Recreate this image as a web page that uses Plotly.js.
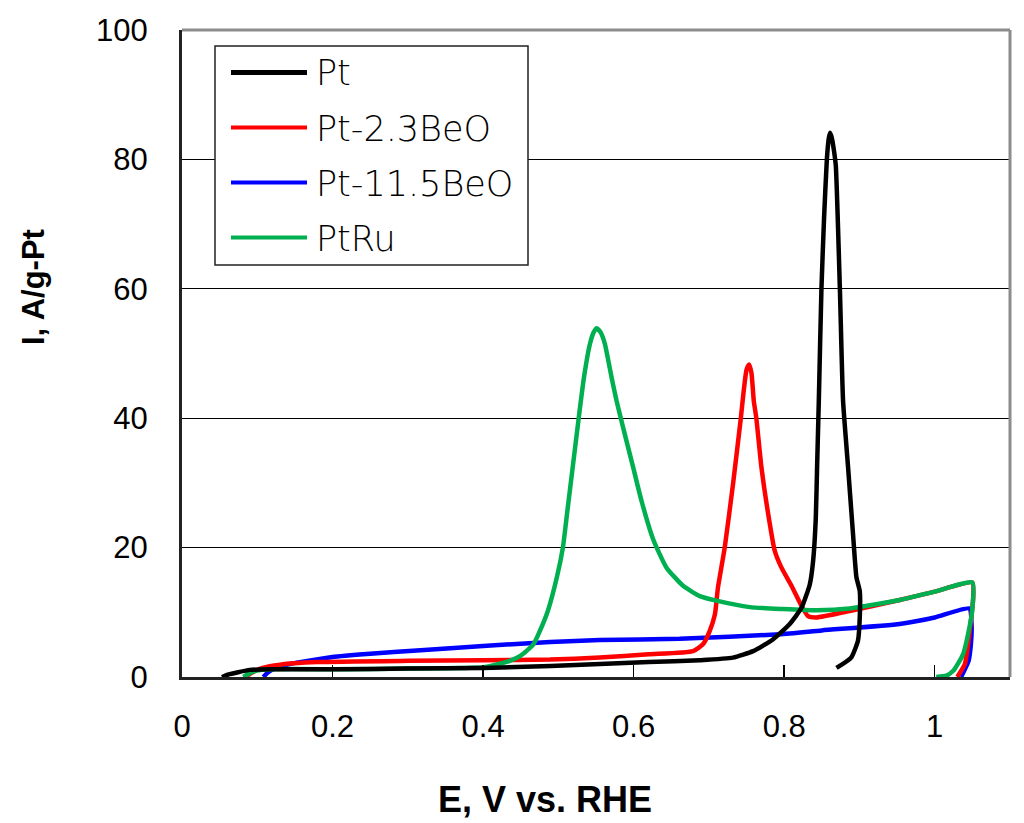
<!DOCTYPE html>
<html><head><meta charset="utf-8">
<script src="https://cdn.plot.ly/plotly-3.0.1.min.js"></script>
<style>html,body{margin:0;padding:0;background:#fff;} #chart{width:1024px;height:823px;}</style>
</head><body><div id="chart"></div>
<script>
// ---- data ----
const seriesNames = ["Pt", "Pt-2.3BeO", "Pt-11.5BeO", "PtRu"];

const ptE = [0.053,0.062,0.073,0.09,0.12,0.2,0.3,0.4,0.49,0.555,0.62,0.6879,0.732,0.7587,0.785,0.8074,0.823,0.834,0.8384,0.842,0.8437,0.846,0.8495,0.853,0.8567,0.8592,0.861,0.8635,0.8662,0.8686,0.874,0.8782,0.8849,0.8915,0.896,0.9004,0.9004,0.898,0.889,0.8695];
const ptI = [0,0.4,0.7,1.1,1.2,1.2,1.3,1.4,1.7,2.0,2.3,2.6,3.0,4.0,5.8,8.2,10.7,14.3,17.9,24.6,32.4,42.7,60,71,80,83.2,84.1,83.2,81.3,79,60,42.7,32.4,22,15.4,13.3,9.2,5.6,3.0,1.4];

const pt23E = [0.084,0.095,0.107,0.13,0.179,0.3,0.4,0.489,0.555,0.62,0.679,0.6923,0.701,0.708,0.712,0.721,0.732,0.7424,0.7465,0.75,0.7534,0.7565,0.7596,0.763,0.7698,0.781,0.7875,0.7964,0.8097,0.823,0.8317,0.843,0.887,0.9535,1.0,1.05,1.051,1.049,1.046,1.04,1.03];
const pt23I = [0,0.8,1.4,1.9,2.3,2.5,2.6,2.7,3.0,3.5,4.0,5.1,7.1,9.7,13.8,20,29.8,40,44.5,47.5,48.3,47,42.7,40,32.4,23.6,19.5,16.9,14.1,11,9.4,9.2,10.2,11.9,13.2,14.6,12,9.7,6.6,2,0];

const pt115E = [0.108,0.115,0.125,0.143,0.2,0.25,0.312,0.4,0.489,0.555,0.661,0.794,0.85,0.9535,1.0,1.046,1.049,1.048,1.045,1.035];
const pt115I = [0,0.8,1.4,2,3.1,3.6,4.1,4.8,5.4,5.7,5.9,6.6,7.2,8.2,9.2,10.6,8,5,2.5,0];

const ptRuE = [0.0815,0.09,0.099,0.12,0.223,0.3,0.4,0.42,0.4356,0.45,0.4666,0.475,0.486,0.498,0.506,0.512,0.527,0.534,0.542,0.547,0.551,0.556,0.5618,0.5707,0.5773,0.5883,0.5994,0.6105,0.6259,0.6437,0.6657,0.6879,0.71,0.7543,0.7985,0.843,0.887,0.9535,1.0,1.05,1.0497,1.046,1.0376,1.025,1.0155,1.002];
const ptRuI = [0,0.6,1.0,1.2,1.2,1.3,1.5,2.0,2.5,3.3,5,7,10.2,15.4,20,25.7,40,46.3,51.5,53.3,53.9,53.3,51.5,46.3,42.7,37.5,32.4,27.2,21.3,16.9,14.1,12.5,11.8,10.8,10.5,10.3,10.6,11.9,13.2,14.6,10.2,7.6,3.5,1.0,0.2,0];

const xTickVals = [0, 0.2, 0.4, 0.6, 0.8, 1];
const yTickVals = [0, 20, 40, 60, 80, 100];
const xTitle = "E, V vs. RHE";
const yTitle = "I, A/g-Pt";

// ---- style ----
const colors = ["#000000", "#ff0000", "#0000ff", "#00b050"];
const L = 182, R = 1010, T = 30, B = 677, W = 1024, H = 823;
const px = v => (v - L) / (R - L);
const py = v => (B - v) / (B - T);

const xs = [ptE, pt23E, pt115E, ptRuE];
const ys = [ptI, pt23I, pt115I, ptRuI];
const order = [2, 1, 3, 0];
const traces = order.map(i => ({
  x: xs[i], y: ys[i], name: seriesNames[i], type: 'scatter', mode: 'lines',
  line: {color: colors[i], width: 4.5, shape: 'spline', smoothing: 0.5},
  showlegend: false
}));

const shapes = [
  {type:'line', xref:'paper', yref:'paper', x0:0, x1:1, y0:1, y1:1, line:{color:'#8c8c8c', width:3}},
  {type:'line', xref:'paper', yref:'paper', x0:1, x1:1, y0:0, y1:1, line:{color:'#8c8c8c', width:3}},
  {type:'rect', xref:'paper', yref:'paper', x0:px(215), x1:px(528), y0:py(265), y1:py(46),
   line:{color:'#222', width:1.5}, fillcolor:'#ffffff', layer:'above'}
];
const annotations = [
  {text: xTitle, xref:'paper', yref:'paper', x: px(545), y: py(799), xanchor:'center', yanchor:'middle', showarrow:false,
   font:{family:'Liberation Sans, Arial, sans-serif', size:36, color:'#000', weight:'bold'}},
  {text: yTitle, xref:'paper', yref:'paper', x: px(33), y: py(287), xanchor:'center', yanchor:'middle', showarrow:false, textangle:-90,
   font:{family:'Liberation Sans, Arial, sans-serif', size:31, color:'#000', weight:'bold'}}
];
const legY = [72.5, 127.5, 182.5, 237.5];
seriesNames.forEach((n, i) => {
  shapes.push({type:'line', xref:'paper', yref:'paper', x0:px(231), x1:px(307), y0:py(legY[i]), y1:py(legY[i]),
    line:{color: colors[i], width: i === 0 ? 5 : 4}, layer:'above'});
  annotations.push({text: n, xref:'paper', yref:'paper', x: px(314), y: py(legY[i] + 1), xanchor:'left', yanchor:'middle',
    showarrow:false, font:{family:'DejaVu Sans ExtraLight, DejaVu Sans, sans-serif', size:35, color:'#000', weight:300}});
});

const layout = {
  width: W, height: H, paper_bgcolor:'#fff', plot_bgcolor:'#fff',
  margin: {l: L, r: W - R, t: T, b: H - B, pad: 0},
  showlegend: false,
  xaxis: {range:[0, 1.1], tickvals: xTickVals, ticks:'inside', ticklen:12, tickwidth:1.5, tickcolor:'#000',
    showgrid:false, zeroline:false, showline:true, linecolor:'#222', linewidth:3,
    ticklabelstandoff: 20,
    tickfont:{family:'Liberation Sans, Arial, sans-serif', size:31, color:'#000'}},
  yaxis: {range:[0, 100], tickvals: yTickVals, ticks:'', showgrid:true, gridcolor:'#000', gridwidth:1,
    zeroline:false, showline:true, linecolor:'#222', linewidth:3, ticklabelstandoff: 25,
    tickfont:{family:'Liberation Sans, Arial, sans-serif', size:31, color:'#000'}},
  shapes: shapes, annotations: annotations
};
Plotly.newPlot('chart', traces, layout, {staticPlot:true, displayModeBar:false});
</script>
</body></html>
